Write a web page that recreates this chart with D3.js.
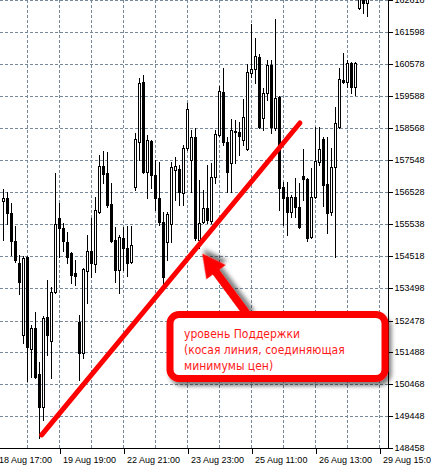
<!DOCTYPE html>
<html>
<head>
<meta charset="utf-8">
<script src="https://cdnjs.cloudflare.com/ajax/libs/d3/7.8.5/d3.min.js"></script>
<style>
  html, body { margin: 0; padding: 0; background: #fff; overflow: hidden; }
  svg { display: block; }
  .axis text { font-family: "Liberation Sans", Arial, sans-serif; font-size: 9px; fill: #000; }
</style>
</head>
<body>
<svg id="chart" width="431" height="468"></svg>
<script>
// Свечи (цены), слева направо
const opens = [156265,156360,155886,155001,154305,152030,154495,151587,152251,150797,
  149754,152599,151840,153389,155728,155412,154969,154622,153989,152441,
  151461,154053,154685,154274,155917,157371,157150,156170,155032,154084,
  155096,154780,154337,156708,158130,160026,157182,158161,157087,156360,
  155601,154969,155538,157245,157276,156518,157940,157561,158288,155032,
  155601,156044,155633,157024,158351,159710,158130,157466,158446,158446,
  158193,157909,160311,160437,160816,158888,159679,160564,158572,159552,
  156708,156392,155917,156392,156075,157055,156960,155127,156392,157498,
  158225,156802,155917,157340,158604,160089,160026,160627,159868,162365,
  162618,162523];
const highs = [156644,156549,156202,155475,154558,154527,154527,152345,152757,151176,
  152631,153768,153547,157150,156202,155570,155285,154653,154400,152662,
  154147,155191,155728,156392,157719,157846,157814,156834,155443,155191,
  155443,155475,155475,158414,160153,160248,158351,158193,157561,157498,
  155917,155917,157498,157656,157403,158035,159363,158509,158572,156929,
  156613,157403,157466,158509,159900,160469,158288,158857,158825,158762,
  159489,160595,161859,161417,160911,159837,160722,160722,162017,159584,
  156866,156866,156455,156992,156834,157909,156992,157308,158604,158604,
  158288,158288,157940,159236,160469,160943,160722,160658,160658,162934,
  162871,162871];
const lows = [155032,155538,154558,154337,153326,151777,150575,150702,150670,148774,
  149343,151398,150670,153357,154495,154685,154305,153673,153610,150607,
  151303,153041,153863,154021,155886,156834,156075,154969,153705,153357,
  154084,153895,154305,156613,157561,157150,156360,156676,155981,155507,
  153579,154400,154969,156297,156139,156139,157877,156549,155032,154780,
  155570,155570,155570,156834,158320,158035,156549,156549,157466,157719,
  158035,157877,160184,159995,158572,158509,159457,158414,158509,155981,
  155507,155191,155759,155759,155412,156297,155001,155096,156360,157403,
  156107,155254,155823,154495,158572,159995,159868,159679,159615,162334,
  162207,162112];
const closes = [156360,155886,155001,154400,153705,154463,151651,152251,150702,149754,
  152567,152030,153389,155538,155412,155001,154495,153926,153895,151461,
  154116,154685,154305,155981,157371,157118,156139,155001,154084,155127,
  154780,154305,154874,158225,159995,157182,158193,157087,156360,155601,
  153863,155854,157340,157371,156549,157940,159173,158288,155096,155570,
  156044,155664,157024,158383,159742,158130,157182,158509,158478,158320,
  158920,160342,160437,160848,158604,159679,160564,158604,159521,156676,
  156360,155917,156392,156075,155443,156960,155096,156392,157529,157909,
  156771,155886,157340,158730,160121,160026,160627,159868,160627,162776,
  162523,162681];

// Подписи осей
const priceTicks = [162618,161598,160578,159588,158568,157548,156528,155538,154518,
  153498,152478,151488,150468,149448,148458];
const timeLabels = ["18 Aug 17:00","19 Aug 19:00","22 Aug 21:00","23 Aug 23:00",
  "25 Aug 11:00","26 Aug 13:00","29 Aug 15:00"];
const timeLabelBars = [-2, 14, 30, 46, 62, 78, 94];

// Линия поддержки (номер бара, цена)
const supportBars = [9.55, 74.1];
const supportPrices = [148870, 158730];

// Выноска
const noteLines = ["уровень Поддержки", "(косая линия, соединяющая", "минимумы цен)"];
const noteTipBar = 49.7;
const noteTipPrice = 154600;

const svg = d3.select("#chart");
const plotW = 388, plotH = 448;

const x = d3.scaleLinear()
  .domain([0, opens.length - 1])
  .range([3.5, 3.5 + 4 * (opens.length - 1)]);
const y = d3.scaleLinear().domain([148458, 162618]).range([plotH, 0]);
const snap = v => Math.floor(v + 0.2) + 0.5;

const defs = svg.append("defs");
defs.append("clipPath").attr("id", "plot-clip")
  .append("rect").attr("x", 0).attr("y", 0).attr("width", plotW).attr("height", plotH);
const shadow = defs.append("filter").attr("id", "shadow")
  .attr("x", "-20%").attr("y", "-20%").attr("width", "150%").attr("height", "150%");
shadow.append("feDropShadow")
  .attr("dx", 3).attr("dy", 4).attr("stdDeviation", 2.2)
  .attr("flood-color", "#000").attr("flood-opacity", 0.5);

svg.append("rect").attr("width", 431).attr("height", 468).attr("fill", "#fff");

// Сетка
const grid = svg.append("g")
  .attr("stroke", "#778899").attr("stroke-width", 1)
  .attr("stroke-dasharray", "3,2").attr("shape-rendering", "crispEdges");
grid.selectAll("line.h").data(priceTicks).join("line").attr("class", "h")
  .attr("x1", 0).attr("x2", plotW)
  .attr("y1", d => snap(y(d))).attr("y2", d => snap(y(d)));
grid.selectAll("line.v").data(d3.range(6, 95, 8)).join("line").attr("class", "v")
  .attr("x1", d => Math.floor(x(d)) + 0.5).attr("x2", d => Math.floor(x(d)) + 0.5)
  .attr("y1", 0).attr("y2", plotH);

// Свечи
const bars = opens.map((o, i) => ({ i, o, h: highs[i], l: lows[i], c: closes[i] }));
const candles = svg.append("g").attr("clip-path", "url(#plot-clip)")
  .attr("shape-rendering", "crispEdges");
candles.selectAll("line").data(bars).join("line")
  .attr("x1", d => x(d.i)).attr("x2", d => x(d.i))
  .attr("y1", d => Math.round(y(d.h)))
  .attr("y2", d => Math.round(y(d.l)) + 1)
  .attr("stroke", "#000");
candles.selectAll("rect").data(bars).join("rect")
  .attr("x", d => x(d.i) - 1)
  .attr("y", d => Math.round(y(Math.max(d.o, d.c))) + 0.5)
  .attr("width", 2)
  .attr("height", d => Math.max(1, Math.round(y(Math.min(d.o, d.c))) - Math.round(y(Math.max(d.o, d.c)))))
  .attr("fill", d => d.c >= d.o ? "#fff" : "#000")
  .attr("stroke", "#000");

// Рамка
svg.append("path")
  .attr("d", `M${plotW + 0.5},0V${plotH + 0.5}H0`)
  .attr("fill", "none").attr("stroke", "#000").attr("shape-rendering", "crispEdges");

// Ось цен
const yAxis = svg.append("g").attr("class", "axis")
  .attr("transform", `translate(${plotW + 0.5},0)`)
  .call(d3.axisRight(y).tickValues(priceTicks).tickSize(4).tickPadding(2)
    .tickFormat(d3.format("d")));
yAxis.select(".domain").remove();
yAxis.selectAll(".tick").attr("transform", d => `translate(0,${snap(y(d))})`);
yAxis.selectAll(".tick line").attr("shape-rendering", "crispEdges");

// Ось времени
const xAxis = svg.append("g").attr("class", "axis")
  .attr("transform", `translate(0,${plotH + 0.5})`)
  .call(d3.axisBottom(x).tickValues(timeLabelBars).tickSize(5).tickPadding(3)
    .tickFormat((d, i) => timeLabels[i]));
xAxis.select(".domain").remove();
xAxis.selectAll(".tick line").attr("shape-rendering", "crispEdges");
xAxis.selectAll(".tick text").attr("text-anchor", "start").attr("x", 3);

// Линия поддержки
svg.append("line")
  .attr("x1", x(supportBars[0])).attr("y1", y(supportPrices[0]))
  .attr("x2", x(supportBars[1])).attr("y2", y(supportPrices[1]))
  .attr("stroke", "#ff0000").attr("stroke-width", 5).attr("stroke-linecap", "round");

// Стрелка к линии
const tipX = x(noteTipBar), tipY = y(noteTipPrice);
const tailX = 250, tailY = 318;
const ang = Math.atan2(tipY - tailY, tipX - tailX);
const len = Math.hypot(tipX - tailX, tipY - tailY);
const headL = 23, headW = 12, shaftW = 4;
const arrowPts = [
  [0, -shaftW], [len - headL, -shaftW], [len - headL, -headW], [len, 0],
  [len - headL, headW], [len - headL, shaftW], [0, shaftW]
];
svg.append("path")
  .attr("d", d3.line()(arrowPts) + "Z")
  .attr("transform", `translate(${tailX},${tailY}) rotate(${ang * 180 / Math.PI})`)
  .attr("fill", "#ff0000")
  .attr("filter", "url(#shadow)");

// Выноска
const note = svg.append("g").attr("filter", "url(#shadow)");
note.append("rect")
  .attr("x", 170).attr("y", 314.5).attr("width", 215).attr("height", 64)
  .attr("rx", 9).attr("ry", 9)
  .attr("fill", "#fff").attr("stroke", "#ff0000").attr("stroke-width", 7);
svg.append("g").selectAll("text").data(noteLines).join("text")
  .attr("x", 184).attr("y", (d, i) => 337.5 + i * 16)
  .attr("font-family", "'DejaVu Sans Condensed', 'DejaVu Sans', sans-serif")
  .attr("font-stretch", "condensed")
  .attr("font-size", 12)
  .attr("fill", "#ff1a1a")
  .text(d => d);
</script>
</body>
</html>
